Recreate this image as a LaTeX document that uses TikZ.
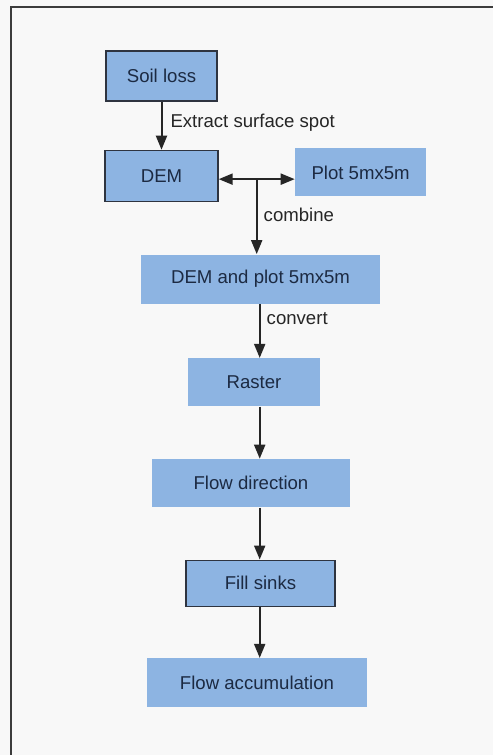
\documentclass[tikz,border=0pt]{standalone}
\usepackage{fontspec}
\setmainfont{Liberation Sans}
\usetikzlibrary{arrows.meta,positioning,calc}
\definecolor{boxblue}{HTML}{8DB4E2}
\definecolor{boxtext}{HTML}{1C2A42}
\definecolor{edge}{HTML}{2E3440}
\definecolor{paper}{HTML}{F8F8F8}
\definecolor{frame}{HTML}{3C3C3C}
\tikzset{
  >={Triangle[length=7pt,width=5.5pt]},
  box/.style={fill=boxblue,text=boxtext,inner sep=0pt,minimum height=24pt,font=\fontsize{9.3}{11}\selectfont,align=center},
  bbox/.style={box,draw=edge,line width=0.7pt},
  lab/.style={font=\fontsize{9.3}{11}\selectfont,text=black!85,inner sep=0pt},
  arr/.style={->,draw=black!85,line width=1pt},
}

\begin{document}
\begin{tikzpicture}[x=0.5pt,y=-0.5pt]
\fill[paper] (0,0) rectangle (493,755);
\useasboundingbox (0,0) rectangle (493,755);
% page frame, only top and left edge in view
\draw[frame,line width=1.25pt] (11,760) -- (11,7) -- (493,7);

\node[bbox,minimum width=55.5pt,minimum height=25pt] (soil) at (161.5,76) {Soil loss};
\node[bbox,minimum width=56.5pt,minimum height=25.5pt,below=24pt of soil] (dem) {DEM};
\node[box,minimum width=65.5pt,right=38pt of dem,yshift=1.75pt] (plot) {Plot 5mx5m};
\node[box,minimum width=119.5pt,minimum height=24.5pt,below=26pt of dem,xshift=49.5pt] (mix) {DEM and plot 5mx5m};
\node[box,minimum width=66pt,below=27pt of mix,xshift=-3.25pt] (raster) {Raster};
\node[box,minimum width=99pt,below=26pt of raster,xshift=-1.5pt] (flowdir) {Flow direction};
\node[bbox,minimum width=74.5pt,minimum height=23pt,below=26pt of flowdir,xshift=4.75pt] (fill) {Fill sinks};
\node[box,minimum width=110pt,minimum height=24.5pt,below=25.5pt of fill,xshift=-1.75pt] (flowacc) {Flow accumulation};

\coordinate (split) at ($(dem.east)!.5!(plot.west)+(0,5)$);
\coordinate (spine) at ($(split)+(3,0)$);

\draw[arr] (soil) -- (dem) node[lab,pos=.44,right=4pt] {Extract surface spot};
\draw[arr,<->] (dem.east |- split) -- (plot.west |- split);
\draw[arr] (split) -- (split |- mix.north) node[lab,pos=.47,right=3pt] {combine};
\draw[arr] (mix.south -| spine) -- (raster.north -| spine) node[lab,pos=.28,right=3pt] {convert};
\draw[arr] (raster.south -| spine) -- (flowdir.north -| spine);
\draw[arr] (flowdir.south -| spine) -- (fill.north -| spine);
\draw[arr] (fill.south -| spine) -- (flowacc.north -| spine);
\end{tikzpicture}
\end{document}
